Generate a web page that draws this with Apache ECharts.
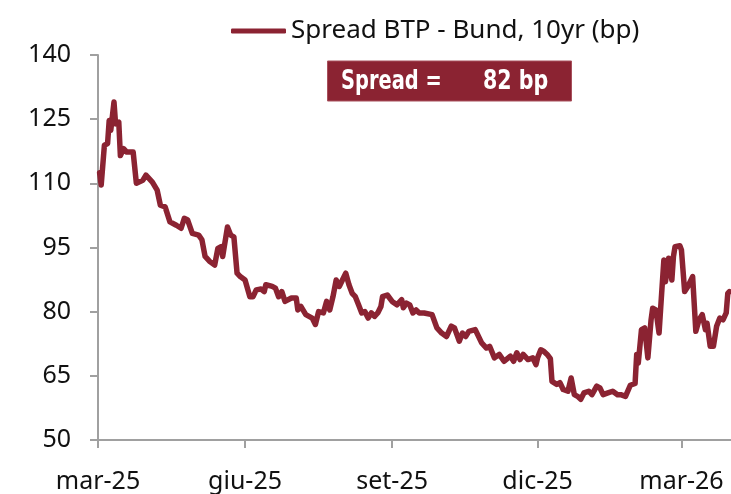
<!DOCTYPE html>
<html>
<head>
<meta charset="utf-8">
<script src="https://cdn.jsdelivr.net/npm/echarts@6/dist/echarts.min.js"></script>
<style>
  html, body { margin: 0; padding: 0; background: #fff; }
  #chart { width: 731px; height: 494px; }
</style>
</head>
<body>
<div id="chart"></div>
<script>
const seriesName = 'Spread BTP - Bund, 10yr (bp)';
const boxLabel = 'Spread =';
const boxValue = '82 bp';

const dates = [
  '2025-03-02','2025-03-03','2025-03-05','2025-03-07','2025-03-08','2025-03-09','2025-03-11','2025-03-12','2025-03-14','2025-03-15',
  '2025-03-17','2025-03-19','2025-03-23','2025-03-25','2025-03-29','2025-03-31','2025-04-04','2025-04-07','2025-04-09','2025-04-12',
  '2025-04-15','2025-04-19','2025-04-22','2025-04-24','2025-04-26','2025-04-29','2025-05-03','2025-05-05','2025-05-07','2025-05-10',
  '2025-05-13','2025-05-15','2025-05-17','2025-05-18','2025-05-19','2025-05-21','2025-05-23','2025-05-25','2025-05-27','2025-05-29',
  '2025-06-01','2025-06-04','2025-06-06','2025-06-08','2025-06-11','2025-06-13','2025-06-14','2025-06-18','2025-06-20','2025-06-22',
  '2025-06-24','2025-06-26','2025-06-30','2025-07-03','2025-07-04','2025-07-06','2025-07-09','2025-07-13','2025-07-14','2025-07-15',
  '2025-07-17','2025-07-20','2025-07-22','2025-07-24','2025-07-26','2025-07-28','2025-07-30','2025-07-31','2025-08-03','2025-08-05',
  '2025-08-07','2025-08-09','2025-08-11','2025-08-13','2025-08-15','2025-08-17','2025-08-19','2025-08-21','2025-08-23','2025-08-25',
  '2025-08-26','2025-08-29','2025-09-01','2025-09-04','2025-09-07','2025-09-08','2025-09-10','2025-09-12','2025-09-14','2025-09-16',
  '2025-09-18','2025-09-21','2025-09-26','2025-09-29','2025-10-02','2025-10-05','2025-10-08','2025-10-10','2025-10-13','2025-10-15',
  '2025-10-17','2025-10-19','2025-10-23','2025-10-27','2025-10-30','2025-11-01','2025-11-04','2025-11-07','2025-11-10','2025-11-14',
  '2025-11-16','2025-11-18','2025-11-20','2025-11-22','2025-11-25','2025-11-28','2025-11-30','2025-12-01','2025-12-03','2025-12-05',
  '2025-12-07','2025-12-09','2025-12-10','2025-12-13','2025-12-15','2025-12-17','2025-12-20','2025-12-22','2025-12-24','2025-12-26',
  '2025-12-28','2025-12-30','2026-01-02','2026-01-04','2026-01-07','2026-01-09','2026-01-11','2026-01-14','2026-01-17','2026-01-20',
  '2026-01-22','2026-01-25','2026-01-26','2026-01-28','2026-01-31','2026-02-01','2026-02-02','2026-02-04','2026-02-06','2026-02-08',
  '2026-02-10','2026-02-11','2026-02-13','2026-02-15','2026-02-16','2026-02-18','2026-02-19','2026-02-21','2026-02-23','2026-02-24',
  '2026-02-25','2026-02-28','2026-03-01','2026-03-03','2026-03-05','2026-03-06','2026-03-08','2026-03-10','2026-03-12','2026-03-14',
  '2026-03-16','2026-03-17','2026-03-19','2026-03-21','2026-03-23','2026-03-25','2026-03-27','2026-03-29','2026-03-30','2026-03-31'
];

const spread = [
  112.5,109.6,118.9,119.3,124.7,122.4,129.0,123.9,124.3,116.5,
  118.1,117.3,117.3,110.0,110.7,111.9,110.3,108.4,104.9,104.5,
  101.0,100.2,99.5,101.8,101.5,98.3,97.9,96.8,92.9,91.7,
  90.9,94.8,95.2,92.9,95.2,99.8,97.9,97.5,89.0,88.2,
  87.4,83.5,83.5,85.1,85.3,84.7,86.3,85.9,85.5,83.5,
  84.7,82.4,83.2,83.2,80.4,81.2,79.3,78.5,78.9,77.0,
  80.0,79.7,82.4,80.4,83.5,87.4,85.9,86.7,89.0,86.3,
  84.3,83.5,81.6,79.7,80.0,78.5,79.7,78.9,79.7,81.2,
  83.5,83.9,82.4,81.6,82.8,80.9,82.0,81.6,79.7,80.4,
  79.7,79.7,79.3,76.2,75.0,74.2,76.6,76.2,73.1,75.0,
  74.2,75.4,75.8,72.7,71.5,71.9,69.2,70.0,68.4,69.6,
  68.4,70.4,68.8,70.0,68.8,69.2,67.6,69.2,71.1,70.7,
  70.0,69.0,63.7,63.0,63.4,61.8,61.4,64.5,60.6,60.2,
  59.5,61.0,61.4,60.6,62.6,62.2,60.6,61.0,61.4,60.6,
  60.6,60.2,60.6,62.8,63.2,70.0,68.0,75.8,76.2,69.2,
  78.1,80.8,80.4,75.0,80.8,92.1,87.0,92.5,87.4,92.9,
  95.2,95.4,94.4,84.7,85.9,85.5,88.2,75.4,78.1,79.3,
  75.8,77.3,71.9,71.9,76.6,78.5,78.1,79.7,84.3,84.7
];

const xTickDates = ['2025-03-01','2025-06-01','2025-09-01','2025-12-01','2026-03-01'];
const xTickLabels = ['mar-25','giu-25','set-25','dic-25','mar-26'];
const yTicks = [50, 65, 80, 95, 110, 125, 140];

function toTs(s) {
  const p = s.split('-').map(Number);
  return Date.UTC(p[0], p[1] - 1, p[2]);
}
const xTickTs = xTickDates.map(toTs);
const xMin = toTs('2025-03-01');
const xMax = toTs('2026-04-01');

const RED = '#8B2332';
const FONT = "'Noto Sans', 'Open Sans', sans-serif";
const BOXFONT = "bold 26px 'DejaVu Sans Condensed', 'DejaVu Sans', sans-serif";

const chart = echarts.init(document.getElementById('chart'), null, { renderer: 'canvas' });
chart.setOption({
  animation: false,
  backgroundColor: '#ffffff',
  grid: { left: 98, top: 55, width: 633.6, height: 386, containLabel: false },
  legend: {
    show: true,
    left: 226,
    top: 13,
    itemWidth: 55,
    itemHeight: 5,
    itemGap: 5,
    icon: 'roundRect',
    data: [seriesName],
    itemStyle: { color: RED },
    textStyle: { fontFamily: FONT, fontSize: 26, color: '#111111' }
  },
  xAxis: {
    type: 'value',
    min: xMin,
    max: xMax,
    axisLine: { show: true, lineStyle: { color: '#a0a0a0', width: 2 } },
    axisTick: { show: true, length: 8, customValues: xTickTs, lineStyle: { color: '#a0a0a0', width: 2 } },
    axisLabel: {
      customValues: xTickTs,
      margin: 29,
      fontFamily: FONT,
      fontSize: 25,
      color: '#111111',
      hideOverlap: false,
      formatter: function (val) {
        let best = 0, bd = Infinity;
        xTickTs.forEach(function (t, i) { const d = Math.abs(t - val); if (d < bd) { bd = d; best = i; } });
        return xTickLabels[best];
      }
    },
    splitLine: { show: false }
  },
  yAxis: {
    type: 'value',
    min: yTicks[0],
    max: yTicks[yTicks.length - 1],
    interval: yTicks[1] - yTicks[0],
    axisLine: { show: true, lineStyle: { color: '#a0a0a0', width: 2 } },
    axisTick: { show: true, length: 8, lineStyle: { color: '#a0a0a0', width: 2 } },
    axisLabel: { margin: 27, fontFamily: FONT, fontSize: 25, color: '#111111' },
    splitLine: { show: false }
  },
  series: [{
    name: seriesName,
    type: 'line',
    data: dates.map(function (d, i) { return [toTs(d), spread[i]]; }),
    showSymbol: false,
    symbol: 'none',
    clip: true,
    lineStyle: { color: RED, width: 5.5, join: 'round', cap: 'round' },
    itemStyle: { color: RED }
  }],
  graphic: [
    { type: 'rect', left: 327, top: 60.5, shape: { width: 244, height: 40 }, style: { fill: RED, stroke: '#a8505c', lineWidth: 1 }, z: 10 },
    { type: 'text', x: 341, y: 69, scaleX: 0.83, style: { text: boxLabel, fill: '#ffffff', font: BOXFONT }, z: 11 },
    { type: 'text', x: 483, y: 69, scaleX: 0.88, style: { text: boxValue, fill: '#ffffff', font: BOXFONT }, z: 11 }
  ]
});
</script>
</body>
</html>
